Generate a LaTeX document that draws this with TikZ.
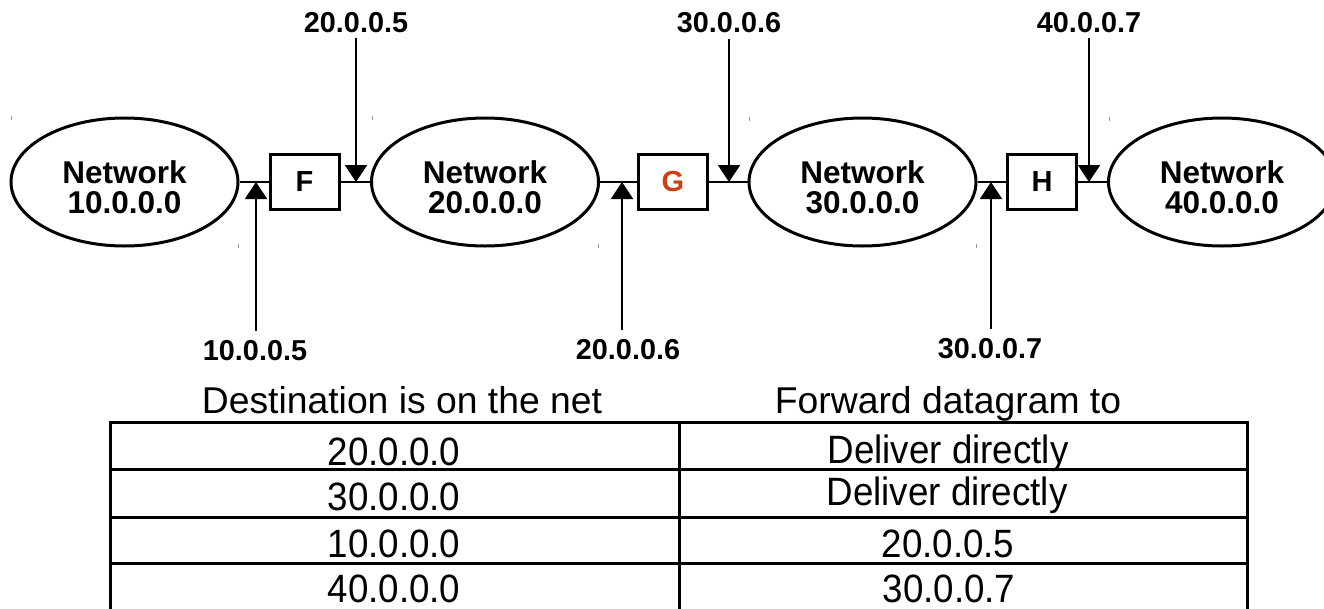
\documentclass[tikz,border=0pt]{standalone}
\usepackage{fontspec}
\setmainfont{Liberation Sans}
\newfontfamily\tallfont{Liberation Sans}[FakeStretch=0.93]
\usetikzlibrary{shapes.geometric,arrows.meta}
\definecolor{gred}{RGB}{205,62,16}
\definecolor{tick}{RGB}{150,150,150}
\tikzset{
  net/.style={ellipse,draw,line width=3pt,minimum width=227pt,minimum height=128pt,inner sep=0pt},
  nettext/.style={align=center,inner sep=0pt,font=\fontsize{31.5}{30}\selectfont\bfseries},
  router/.style={draw,line width=3pt,minimum width=69pt,minimum height=55pt,inner sep=0pt,font=\fontsize{29}{29}\selectfont\bfseries},
  link/.style={line width=2pt},
  arr/.style={line width=2pt,-{Triangle[width=22pt,length=17pt]}},
  lbl/.style={inner sep=0pt,anchor=base,font=\fontsize{28.8}{28.8}\selectfont\bfseries},
  head/.style={inner sep=0pt,anchor=base,font=\fontsize{37.3}{37.3}\selectfont},
  cell/.style={inner sep=0pt,anchor=base,font=\tallfont\fontsize{39.5}{39.5}\selectfont},
  tbl/.style={line width=3pt},
  tk/.style={tick,line width=1pt}
}
\begin{document}
\begin{tikzpicture}[x=1pt,y=-1pt]
\useasboundingbox (0,0) rectangle (1324,608);
\clip (0,0) rectangle (1324,608);
% networks
\node[net] (n1) at (124.5,182) {};
\node[net] (n2) at (485,182) {};
\node[net] (n3) at (862.5,182) {};
\node[net] (n4) at (1222,182) {};
\node[nettext] (t1) at (124.5,187.5) {Network\\10.0.0.0};
\node[nettext] (t2) at (485,187.5) {Network\\20.0.0.0};
\node[nettext] (t3) at (862.5,187.5) {Network\\30.0.0.0};
\node[nettext] (t4) at (1222,187.5) {Network\\40.0.0.0};
% routers
\node[router] (F) at (304.5,182) {F};
\node[router,text=gred] (G) at (673,182) {G};
\node[router] (H) at (1042,182) {H};
% links
\draw[link] (n1) -- (F);
\draw[link] (F) -- (n2);
\draw[link] (n2) -- (G);
\draw[link] (G) -- (n3);
\draw[link] (n3) -- (H);
\draw[link] (H) -- (n4);
% arrow tips
\coordinate (fu) at (256,182);
\coordinate (fd) at (356,182);
\coordinate (gu) at (622,182);
\coordinate (gd) at (729,182);
\coordinate (hu) at (991,182);
\coordinate (hd) at (1089,182);
% labels
\node[lbl] (l205) at (356,32) {20.0.0.5};
\node[lbl] (l306) at (729,32) {30.0.0.6};
\node[lbl] (l407) at (1089,32) {40.0.0.7};
\node[lbl] (l105) at (255,360) {10.0.0.5};
\node[lbl] (l206) at (628,359) {20.0.0.6};
\node[lbl] (l307) at (990,358) {30.0.0.7};
\draw[arr,shorten <=6pt] (l205.south -| fd) -- (fd);
\draw[arr,shorten <=6pt] (l306.south -| gd) -- (gd);
\draw[arr,shorten <=6pt] (l407.south -| hd) -- (hd);
\draw[arr,shorten <=9pt] (l105.north -| fu) -- (fu);
\draw[arr,shorten <=9pt] (l206.north -| gu) -- (gu);
\draw[arr,shorten <=9pt] (l307.north -| hu) -- (hu);
% small corner ticks
\foreach \x/\y in {11/118,372/118,749/119,1109/119,238/246,598/246,976/246}
  \draw[tk] (\x,\y-2) -- (\x,\y+2);
% table
\node[head] (h1) at (402,413) {Destination is on the net};
\node[head] (h2) at (948,413) {Forward datagram to};
\draw[tbl] (108.5,422) -- (1248.5,422);
\draw[tbl] (108.5,469) -- (1248.5,469);
\draw[tbl] (108.5,517) -- (1248.5,517);
\draw[tbl] (108.5,563) -- (1248.5,563);
\draw[tbl] (110,422) -- (110,612);
\draw[tbl] (679,422) -- (679,612);
\draw[tbl] (1247,422) -- (1247,612);
\node[cell] (a1) at (394,465) {20.0.0.0};
\node[cell] (a2) at (394,510) {30.0.0.0};
\node[cell] (a3) at (394,557) {10.0.0.0};
\node[cell] (a4) at (394,602) {40.0.0.0};
\node[cell] (b1) at (948,463) {Deliver directly};
\node[cell] (b2) at (947,505) {Deliver directly};
\node[cell] (b3) at (948,557) {20.0.0.5};
\node[cell] (b4) at (949,602) {30.0.0.7};
\end{tikzpicture}
\end{document}
